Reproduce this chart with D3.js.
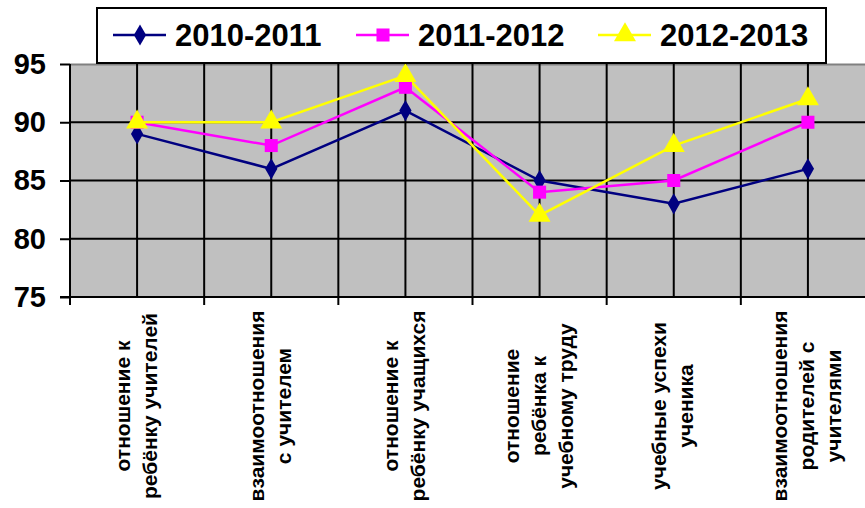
<!DOCTYPE html>
<meta charset="utf-8">
<head>
<script src="https://d3js.org/d3.v7.min.js"></script>
<style>
  body { margin: 0; background: #fff; }
  text { font-family: Arial, "Liberation Sans", sans-serif; font-weight: bold; }
</style>
</head>
<body>
<div id="my_dataviz"></div>
<script>

// categories (each one is a list of wrapped lines)
var categories = [
  ["отношение к", "ребёнку учителей"],
  ["взаимоотношения", "с учителем"],
  ["отношение к", "ребёнку учащихся"],
  ["отношение", "ребёнка к", "учебному труду"],
  ["учебные успехи", "ученика"],
  ["взаимоотношения", "родителей с", "учителями"]
];

var seriesNames = ["2010-2011", "2011-2012", "2012-2013"];
var values2010 = [89, 86, 91, 85, 83, 86];
var values2011 = [90, 88, 93, 84, 85, 90];
var values2012 = [90, 90, 94, 82, 88, 92];
var yTicks = [75, 80, 85, 90, 95];

var colors = ["#000080", "#ff00ff", "#ffff00"];
var symbols = [d3.symbolDiamond, d3.symbolSquare, d3.symbolTriangle];
var symSizes = [130, 170, 210];

var W = 865, H = 508;
var margin = {top: 64, left: 70, bottom: 211, right: -10};
var width = W - margin.left - margin.right,
    height = H - margin.top - margin.bottom;

var svg = d3.select("#my_dataviz")
  .append("svg")
    .attr("width", W)
    .attr("height", H)
  .append("g")
    .attr("transform", "translate(" + margin.left + "," + margin.top + ")");

var x = d3.scaleBand()
  .domain(d3.range(categories.length))
  .range([0, width]);

var y = d3.scaleLinear()
  .domain([75, 95])
  .range([height, 0]);

// plot background
svg.append("rect")
  .attr("width", width)
  .attr("height", height)
  .style("fill", "#c0c0c0");

// top border (grey)
svg.append("line")
  .attr("x1", 0).attr("x2", width)
  .attr("y1", 0.5).attr("y2", 0.5)
  .style("stroke", "#808080").style("stroke-width", 2);

// horizontal gridlines
svg.selectAll(".hgrid")
  .data(yTicks.filter(function(d){ return d > 75 && d < 95; }))
  .enter().append("line")
    .attr("x1", 0).attr("x2", width)
    .attr("y1", function(d){ return y(d); })
    .attr("y2", function(d){ return y(d); })
    .style("stroke", "#000").style("stroke-width", 2);

// vertical gridlines at category boundaries and centres
var vlines = [];
categories.forEach(function(c, i){
  vlines.push(x(i));
  vlines.push(x(i) + x.bandwidth() / 2);
});
svg.selectAll(".vgrid")
  .data(vlines)
  .enter().append("line")
    .attr("x1", function(d){ return d; })
    .attr("x2", function(d){ return d; })
    .attr("y1", 0).attr("y2", height)
    .style("stroke", "#000").style("stroke-width", 2);

// Y axis
var yAxis = svg.append("g")
  .call(d3.axisLeft(y).tickValues(yTicks).tickSize(10).tickPadding(14));
yAxis.select(".domain").attr("d", "M0,0V" + (height + 8)).style("stroke-width", 2);
yAxis.selectAll(".tick line").style("stroke-width", 2);
yAxis.selectAll("text")
  .style("font-size", "29px")
  .style("font-weight", "bold")
  .style("font-family", "Arial, 'Liberation Sans', sans-serif")
  .style("fill", "#000");

// X axis line + ticks at boundaries
svg.append("line")
  .attr("x1", -10).attr("x2", width)
  .attr("y1", height).attr("y2", height)
  .style("stroke", "#000").style("stroke-width", 2);
svg.selectAll(".xtick")
  .data(d3.range(categories.length + 1))
  .enter().append("line")
    .attr("x1", function(d){ return d < categories.length ? x(d) : width; })
    .attr("x2", function(d){ return d < categories.length ? x(d) : width; })
    .attr("y1", height).attr("y2", height + 8)
    .style("stroke", "#000").style("stroke-width", 2);

// rotated category labels
var lineGap = 27;
categories.forEach(function(lines, i){
  var cx = x(i) + x.bandwidth() / 2;
  var n = lines.length;
  lines.forEach(function(t, j){
    var off = (j - (n - 1) / 2) * lineGap;
    svg.append("text")
      .attr("transform", "translate(" + (cx + off + 6) + "," + (height + 109) + ") rotate(-90)")
      .attr("text-anchor", "middle")
      .style("font-size", "21px")
      .text(t);
  });
});

// series lines and markers
var allSeries = [values2010, values2011, values2012];
var line = d3.line()
  .x(function(d, i){ return x(i) + x.bandwidth() / 2; })
  .y(function(d){ return y(d); });

allSeries.forEach(function(vals, s){
  svg.append("path")
    .datum(vals)
    .attr("d", line)
    .style("fill", "none")
    .style("stroke", colors[s])
    .style("stroke-width", 2.5);
});
allSeries.forEach(function(vals, s){
  svg.selectAll(".m" + s)
    .data(vals)
    .enter().append("path")
      .attr("d", d3.symbol().type(symbols[s]).size(symSizes[s]))
      .attr("transform", function(d, i){
        return "translate(" + (x(i) + x.bandwidth() / 2) + "," + y(d) + ")";
      })
      .style("fill", colors[s]);
});

// legend
var root = d3.select("svg");
root.append("rect")
  .attr("x", 97).attr("y", 8)
  .attr("width", 729).attr("height", 55)
  .style("fill", "#fff").style("stroke", "#000").style("stroke-width", 2);

var legX = [113, 356, 598];
seriesNames.forEach(function(name, s){
  var g = root.append("g").attr("transform", "translate(" + legX[s] + ",35)");
  g.append("line")
    .attr("x1", 0).attr("x2", 53)
    .style("stroke", colors[s]).style("stroke-width", 2.5);
  g.append("path")
    .attr("d", d3.symbol().type(symbols[s]).size(symSizes[s]))
    .attr("transform", "translate(27,0)")
    .style("fill", colors[s]);
  g.append("text")
    .attr("x", 62).attr("y", 11)
    .style("font-size", "31px")
    .text(name);
});

</script>
</body>
